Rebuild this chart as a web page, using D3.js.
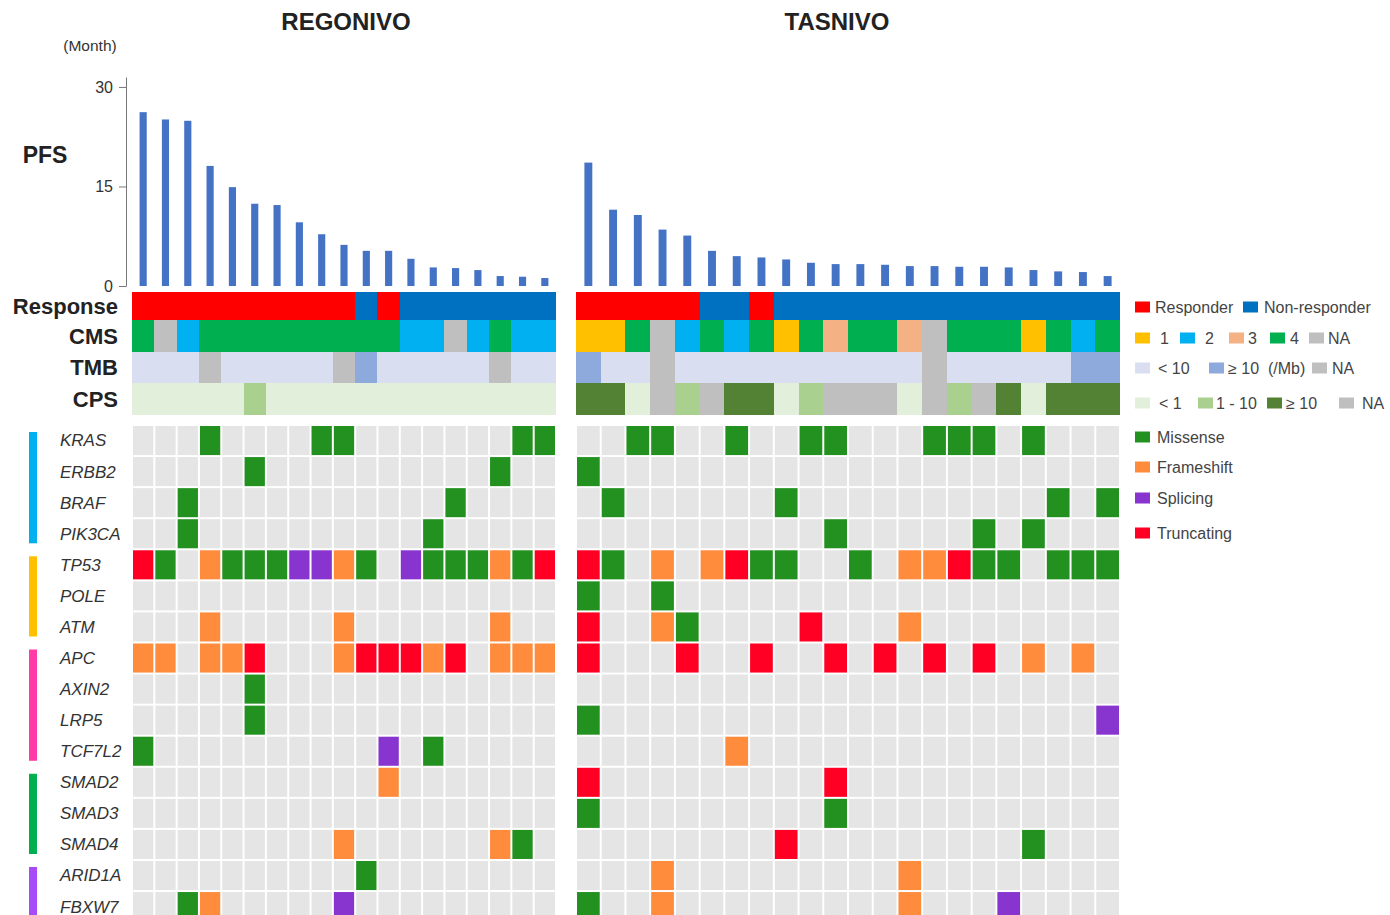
<!DOCTYPE html>
<html>
<head>
<meta charset="utf-8">
<script src="https://cdn.jsdelivr.net/npm/d3@7"></script>
<style>
  body { margin: 0; background: #fff; }
  svg { display: block; }
  text { font-family: "Liberation Sans", Arial, Helvetica, sans-serif; }
</style>
</head>
<body>
<svg id="chart" width="1390" height="915"></svg>
<script>
// ---------- data ----------
const cohorts = ["REGONIVO", "TASNIVO"];
const genes = ["KRAS", "ERBB2", "BRAF", "PIK3CA", "TP53", "POLE", "ATM", "APC",
               "AXIN2", "LRP5", "TCF7L2", "SMAD2", "SMAD3", "SMAD4", "ARID1A", "FBXW7"];
const pathwayGroups = [
  ["KRAS", "PIK3CA"], ["TP53", "ATM"], ["APC", "TCF7L2"], ["SMAD2", "SMAD4"], ["ARID1A", "FBXW7"]
];
const pfsTicks = [0, 15, 30];

// PFS in months, one value per patient
const regPFS = [26.2, 25.1, 24.9, 18.1, 14.9, 12.4, 12.2, 9.6, 7.8, 6.2, 5.3, 5.3, 4.1, 2.8, 2.7, 2.4, 1.5, 1.4, 1.2];
const tasPFS = [18.6, 11.5, 10.7, 8.5, 7.6, 5.3, 4.5, 4.3, 4.0, 3.5, 3.3, 3.3, 3.2, 3.0, 3.0, 2.9, 2.9, 2.8, 2.4, 2.2, 2.1, 1.5];

// R = responder, N = non-responder
const regResponse = ["R","R","R","R","R","R","R","R","R","R","N","R","N","N","N","N","N","N","N"];
const tasResponse = ["R","R","R","R","R","N","N","R","N","N","N","N","N","N","N","N","N","N","N","N","N","N"];

// consensus molecular subtype
const regCMS = ["4","NA","2","4","4","4","4","4","4","4","4","4","2","2","NA","2","4","2","2"];
const tasCMS = ["1","1","4","NA","2","4","2","4","1","4","3","4","4","3","NA","4","4","4","1","4","2","4"];

// tumour mutational burden
const regTMB = ["lo","lo","lo","NA","lo","lo","lo","lo","lo","NA","hi","lo","lo","lo","lo","lo","NA","lo","lo"];
const tasTMB = ["hi","lo","lo","NA","lo","lo","lo","lo","lo","lo","lo","lo","lo","lo","NA","lo","lo","lo","lo","lo","hi","hi"];

// PD-L1 combined positive score
const regCPS = ["<1","<1","<1","<1","<1","1-10","<1","<1","<1","<1","<1","<1","<1","<1","<1","<1","<1","<1","<1"];
const tasCPS = [">=10",">=10","<1","NA","1-10","NA",">=10",">=10","<1","1-10","NA","NA","NA","<1","NA","1-10","NA",">=10","<1",">=10",">=10",">=10"];

// mutations per gene (same order as genes): M missense, F frameshift, S splicing, T truncating
const regMutations = [
  "...M....MM.......MM",
  ".....M..........M..",
  "..M...........M....",
  "..M..........M.....",
  "TM.FMMMSSFM.SMMMFMT",
  "...................",
  "...F.....F......F..",
  "FF.FFT...FTTTFT.FFF",
  ".....M.............",
  ".....M.............",
  "M..........S.M.....",
  "...........F.......",
  "...................",
  ".........F......FM.",
  "..........M........",
  "..MF.....S........."
];
const tasMutations = [
  "..MM..M..MM...MMM.M...",
  "M.....................",
  ".M......M..........M.M",
  "..........M.....M.M...",
  "TM.F.FTMM..M.FFTMM.MMM",
  "M..M..................",
  "T..FM....T...F........",
  "T...T..T..T.T.T.T.F.F.",
  "......................",
  "M....................S",
  "......F...............",
  "T.........T...........",
  "M.........M...........",
  "........T.........M...",
  "...F.........F........",
  "M..F.........F...S...."
];

// ---------- colours ----------
const responseColor = { R: "#FF0000", N: "#0070C0" };
const cmsColor = { "1": "#FFC000", "2": "#00B0F0", "3": "#F4B183", "4": "#00B050", "NA": "#BFBFBF" };
const tmbColor = { lo: "#D9DFF1", hi: "#8EA9DB", NA: "#BFBFBF" };
const cpsColor = { "<1": "#E2EFDA", "1-10": "#A9D08E", ">=10": "#548235", "NA": "#BFBFBF" };
const mutColor = { M: "#23911F", F: "#FF8B3D", S: "#8835CF", T: "#FF0024" };
const pathwayColor = ["#00B0F0", "#FFC000", "#FF3BA7", "#00B050", "#A64BF5"];
const barColor = "#4472C4";
const emptyCell = "#E5E5E5";

// ---------- layout ----------
const svg = d3.select("#chart");
const panels = [
  { name: cohorts[0], x0: 132, x1: 556, titleX: 346, pfs: regPFS, response: regResponse, cms: regCMS, tmb: regTMB, cps: regCPS, muts: regMutations },
  { name: cohorts[1], x0: 576, x1: 1120, titleX: 837, pfs: tasPFS, response: tasResponse, cms: tasCMS, tmb: tasTMB, cps: tasCPS, muts: tasMutations }
];

const y = d3.scaleLinear().domain([0, 31.5]).range([286, 77]);
const trackY = { Response: [292, 320] };
const trackBand = d3.scaleBand().domain(["CMS", "TMB", "CPS"]).range([320, 415]);
const geneY = d3.scaleBand().domain(genes).range([425, 425 + 31.07 * genes.length]);

// consecutive runs of equal values, so neighbouring cells of one colour form one block
function runs(vals) {
  const out = [];
  vals.forEach((v, i) => {
    const last = out[out.length - 1];
    if (last && last.v === v) last.end = i;
    else out.push({ v, start: i, end: i });
  });
  return out;
}

// PFS axis
const axisG = svg.append("g").attr("transform", "translate(126,0)")
  .call(d3.axisLeft(y).tickValues(pfsTicks).tickSize(7).tickSizeOuter(0));
axisG.select(".domain").attr("stroke", "#777");
axisG.selectAll(".tick line").attr("stroke", "#777");
axisG.selectAll(".tick text").attr("fill", "#333").attr("font-size", 16)
  .attr("font-family", "'Liberation Sans', Arial, sans-serif").attr("x", -13);

svg.append("text").attr("x", 90).attr("y", 46).attr("dy", "0.35em").attr("text-anchor", "middle")
  .attr("font-size", 15.5).attr("fill", "#333").text("(Month)");
svg.append("text").attr("x", 45).attr("y", 155).attr("dy", "0.35em").attr("text-anchor", "middle")
  .attr("font-size", 23).attr("font-weight", "bold").attr("fill", "#222").text("PFS");

// track labels
const trackLabels = [["Response", 306], ["CMS", trackBand("CMS") + trackBand.bandwidth() / 2],
                     ["TMB", trackBand("TMB") + trackBand.bandwidth() / 2], ["CPS", trackBand("CPS") + trackBand.bandwidth() / 2]];
svg.selectAll("text.track").data(trackLabels).join("text")
  .attr("class", "track").attr("x", 118).attr("y", d => d[1]).attr("dy", "0.35em")
  .attr("text-anchor", "end").attr("font-size", 22).attr("font-weight", "bold").attr("fill", "#222")
  .text(d => d[0]);

// gene labels and pathway bars
svg.selectAll("text.gene").data(genes).join("text")
  .attr("class", "gene").attr("x", 60).attr("y", d => geneY(d) + geneY.bandwidth() / 2).attr("dy", "0.35em")
  .attr("font-size", 17).attr("font-style", "italic").attr("fill", "#333").text(d => d);

svg.selectAll("rect.pathway").data(pathwayGroups).join("rect")
  .attr("class", "pathway")
  .attr("x", 29).attr("width", 8)
  .attr("y", d => geneY(d[0]) + 7)
  .attr("height", d => geneY(d[1]) + geneY.bandwidth() - geneY(d[0]) - 13)
  .attr("fill", (d, i) => pathwayColor[i]);

// panels
panels.forEach(p => {
  const n = p.pfs.length;
  const x = d3.scaleBand().domain(d3.range(n)).range([p.x0, p.x1]);
  const g = svg.append("g");

  g.append("text").attr("x", p.titleX).attr("y", 22).attr("dy", "0.35em")
    .attr("text-anchor", "middle").attr("font-size", 24).attr("font-weight", "bold").attr("fill", "#222")
    .text(p.name);

  // PFS bars
  const bw = x.bandwidth() * 0.32;
  g.selectAll("rect.bar").data(p.pfs).join("rect")
    .attr("x", (d, i) => x(i) + x.bandwidth() / 2 - bw / 2)
    .attr("width", bw)
    .attr("y", d => y(d))
    .attr("height", d => y(0) - y(d))
    .attr("fill", barColor);

  // annotation tracks
  const tracks = [
    { vals: p.response, col: responseColor, y0: trackY.Response[0], y1: trackY.Response[1] },
    { vals: p.cms, col: cmsColor, y0: trackBand("CMS"), y1: trackBand("CMS") + trackBand.bandwidth() },
    { vals: p.tmb, col: tmbColor, y0: trackBand("TMB"), y1: trackBand("TMB") + trackBand.bandwidth() },
    { vals: p.cps, col: cpsColor, y0: trackBand("CPS"), y1: trackBand("CPS") + trackBand.bandwidth() }
  ];
  tracks.forEach(t => {
    g.append("g").attr("shape-rendering", "crispEdges").selectAll("rect").data(runs(t.vals)).join("rect")
      .attr("x", d => x(d.start))
      .attr("width", d => x(d.end) + x.bandwidth() - x(d.start))
      .attr("y", t.y0).attr("height", t.y1 - t.y0)
      .attr("fill", d => t.col[d.v]);
  });

  // oncoprint grid
  const gap = 2;
  const cells = [];
  genes.forEach((gene, gi) => {
    for (let i = 0; i < n; i++) cells.push({ gene, i, m: p.muts[gi][i] });
  });
  g.append("g").selectAll("rect").data(cells).join("rect")
    .attr("x", d => x(d.i) + gap / 2)
    .attr("width", x.bandwidth() - gap)
    .attr("y", d => geneY(d.gene) + gap / 2)
    .attr("height", geneY.bandwidth() - gap)
    .attr("fill", d => d.m === "." ? emptyCell : mutColor[d.m]);
});

// ---------- legend ----------
const legendRows = [
  { y: 307, items: [[1135, 1155, responseColor.R, "Responder"], [1243, 1264, responseColor.N, "Non-responder"]] },
  { y: 338, items: [[1135, 1160, cmsColor["1"], "1"], [1180, 1205, cmsColor["2"], "2"], [1229, 1248, cmsColor["3"], "3"],
                    [1270, 1290, cmsColor["4"], "4"], [1309, 1328, cmsColor.NA, "NA"]] },
  { y: 368, items: [[1135, 1158, tmbColor.lo, "< 10"], [1209, 1228, tmbColor.hi, "\u2265 10  (/Mb)"], [1312, 1332, tmbColor.NA, "NA"]] },
  { y: 403, items: [[1135, 1159, cpsColor["<1"], "< 1"], [1198, 1216, cpsColor["1-10"], "1 - 10"],
                    [1267, 1286, cpsColor[">=10"], "\u2265 10"], [1339, 1362, cpsColor.NA, "NA"]] },
  { y: 437, items: [[1135, 1157, mutColor.M, "Missense"]] },
  { y: 467, items: [[1135, 1157, mutColor.F, "Frameshift"]] },
  { y: 498, items: [[1135, 1157, mutColor.S, "Splicing"]] },
  { y: 533, items: [[1135, 1157, mutColor.T, "Truncating"]] }
];
const lg = svg.append("g");
legendRows.forEach(r => {
  r.items.forEach(([sx, tx, c, label]) => {
    lg.append("rect").attr("x", sx).attr("y", r.y - 5.5).attr("width", 15).attr("height", 11).attr("fill", c);
    lg.append("text").attr("x", tx).attr("y", r.y).attr("dy", "0.35em").attr("font-size", 16)
      .attr("fill", "#444").attr("xml:space", "preserve").style("white-space", "pre").text(label);
  });
});
</script>
</body>
</html>
